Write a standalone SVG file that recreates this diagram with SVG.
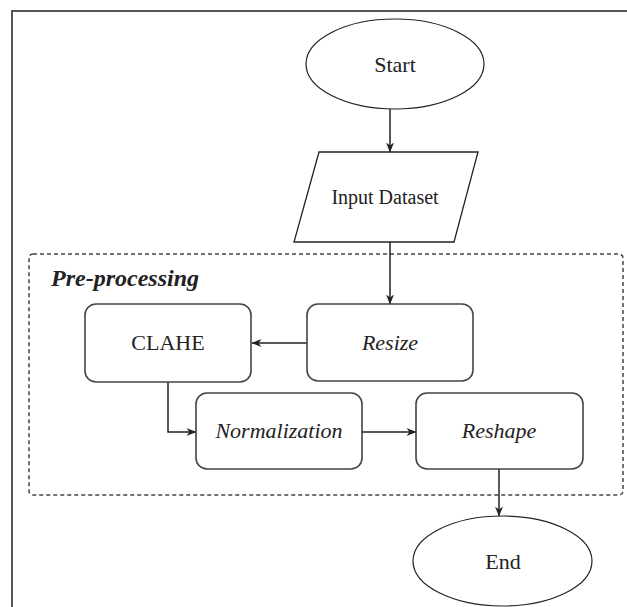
<svg xmlns="http://www.w3.org/2000/svg" width="627" height="607" viewBox="0 0 627 607">
<style>
.bg{fill:#fff}
.frame{fill:none;stroke:#555;stroke-width:2}
.term{fill:#fff;stroke:#222;stroke-width:1.2}
.box{fill:#fff;stroke:#444;stroke-width:1.6}
.group{fill:none;stroke:#444;stroke-width:1.5;stroke-dasharray:4 3}
.edge{fill:none;stroke:#222;stroke-width:1.5}
.t{font-family:"Liberation Serif","Times New Roman",serif;font-size:22px;fill:#222;text-anchor:middle}
.it{font-style:italic}
.title{font-family:"Liberation Serif","Times New Roman",serif;font-size:24px;font-weight:bold;font-style:italic;fill:#222}
</style>
<defs>
<marker id="arr" viewBox="0 0 10 8" refX="9.5" refY="4" markerWidth="10" markerHeight="8" markerUnits="userSpaceOnUse" orient="auto">
<path d="M0,0 L10,4 L0,8 L3,4 z" fill="#222"/>
</marker>
</defs>
<rect class="bg" x="0" y="0" width="627" height="607"/>
<path class="frame" d="M12,607 V11 H627"/>
<g id="preprocessing">
<rect class="group" x="29" y="254" width="594" height="241" rx="4"/>
<text class="title" x="51" y="286">Pre-processing</text>
</g>
<g id="connectors">
<path class="edge" d="M390,109 V152" marker-end="url(#arr)"/>
<path class="edge" d="M390,242 V304" marker-end="url(#arr)"/>
<path class="edge" d="M307,343 H252" marker-end="url(#arr)"/>
<path class="edge" d="M168,382 V432 H196" marker-end="url(#arr)"/>
<path class="edge" d="M362,432 H416" marker-end="url(#arr)"/>
<path class="edge" d="M499,469 V516" marker-end="url(#arr)"/>
</g>
<g id="start">
<ellipse class="term" cx="395" cy="64" rx="89" ry="45"/>
<text class="t" x="395" y="72">Start</text>
</g>
<g id="input">
<polygon class="box" points="319,152 478,152 454,242 294,242" style="stroke-width:1.3;stroke:#222"/>
<text class="t" x="385" y="204" style="font-size:20px">Input Dataset</text>
</g>
<g id="clahe">
<rect class="box" x="85" y="304" width="166" height="78" rx="11"/>
<text class="t" x="168" y="350">CLAHE</text>
</g>
<g id="resize">
<rect class="box" x="307" y="304" width="166" height="77" rx="11"/>
<text class="t it" x="390" y="350">Resize</text>
</g>
<g id="normalization">
<rect class="box" x="196" y="393" width="166" height="76" rx="11"/>
<text class="t it" x="279" y="438">Normalization</text>
</g>
<g id="reshape">
<rect class="box" x="416" y="393" width="167" height="76" rx="11"/>
<text class="t it" x="499" y="438">Reshape</text>
</g>
<g id="end">
<ellipse class="term" cx="502.5" cy="561" rx="89.5" ry="45"/>
<text class="t" x="503" y="569">End</text>
</g>
</svg>
